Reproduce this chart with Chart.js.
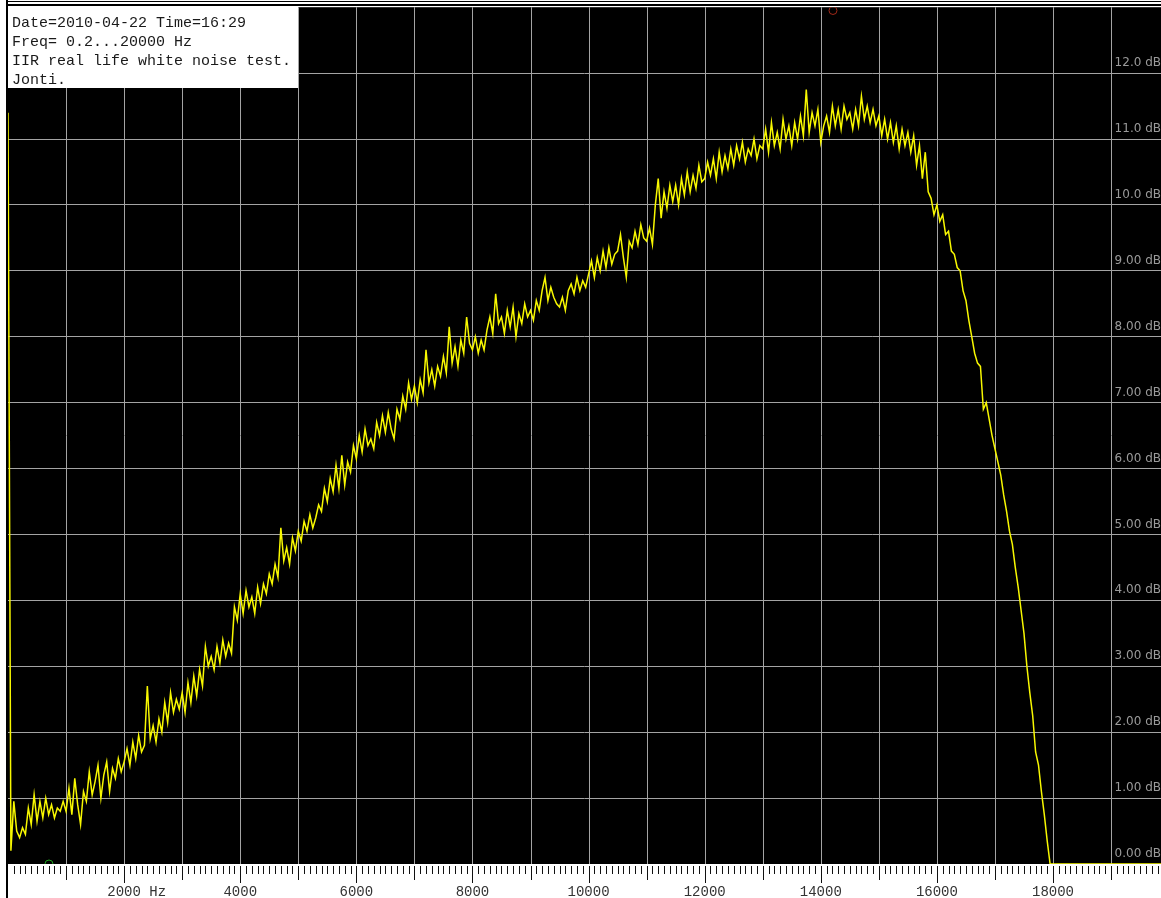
<!DOCTYPE html>
<html>
<head>
<meta charset="utf-8">
<title>IIR real life white noise test</title>
<script src="https://cdn.jsdelivr.net/npm/chart.js@4.4.0/dist/chart.umd.min.js"></script>
<style>
  html, body { margin: 0; padding: 0; background: #fff; }
  #wrap { width: 1161px; height: 898px; position: relative; }
</style>
</head>
<body>
<div id="wrap"><canvas id="spectrum"></canvas></div>
<script>
// --- DATA ---
const infoLines = [
    'Date=2010-04-22 Time=16:29',
    'Freq= 0.2...20000 Hz',
    'IIR real life white noise test.',
    'Jonti.'
];

// level in dB, one sample every 50 Hz starting at 0 Hz
const freqStep = 50;
const levelDb = [
    11.4, 0.2, 0.95, 0.5, 0.4, 0.55, 0.45, 0.85, 0.6, 1.05,
    0.65, 0.95, 0.7, 1.0, 0.75, 0.9, 0.7, 0.85, 0.8, 0.95,
    0.8, 1.15, 0.75, 1.3, 0.9, 0.6, 1.1, 0.95, 1.4, 1.05,
    1.25, 1.5, 1.0, 1.35, 1.55, 1.1, 1.45, 1.3, 1.6, 1.4,
    1.55, 1.75, 1.5, 1.85, 1.6, 1.95, 1.7, 1.8, 2.7, 1.9,
    2.1, 1.85, 2.2, 2.0, 2.45, 2.15, 2.6, 2.3, 2.5, 2.35,
    2.6, 2.3, 2.75, 2.45, 2.85, 2.55, 2.95, 2.7, 3.3, 3.0,
    3.15, 2.95, 3.3, 3.05, 3.4, 3.15, 3.35, 3.2, 3.9, 3.7,
    4.1, 3.8, 4.15, 3.9, 4.05, 3.8, 4.2, 3.95, 4.25, 4.1,
    4.4, 4.25, 4.55, 4.35, 5.1, 4.6, 4.8, 4.55, 4.95, 4.75,
    5.05, 4.9, 5.2, 5.05, 5.3, 5.1, 5.25, 5.45, 5.35, 5.7,
    5.5, 5.85, 5.65, 6.05, 5.7, 6.2, 5.75, 6.1, 5.95, 6.35,
    6.15, 6.5, 6.25, 6.6, 6.35, 6.45, 6.3, 6.7, 6.5, 6.8,
    6.55, 6.85, 6.6, 6.45, 6.9, 6.75, 7.1, 6.9, 7.3, 7.05,
    7.25, 7.0, 7.35, 7.15, 7.8, 7.3, 7.5, 7.25, 7.55, 7.4,
    7.7, 7.45, 8.15, 7.6, 7.85, 7.55, 7.95, 7.75, 8.3, 7.9,
    7.8, 8.0, 7.75, 7.95, 7.8, 8.1, 8.3, 8.05, 8.65, 8.2,
    8.3, 8.05, 8.4, 8.15, 8.45, 8.0, 8.35, 8.2, 8.5, 8.3,
    8.4, 8.25, 8.55, 8.4, 8.7, 8.9, 8.55, 8.75, 8.6, 8.5,
    8.45, 8.6, 8.4, 8.7, 8.8, 8.65, 8.9, 8.7, 8.85, 8.75,
    8.95, 9.15, 8.9, 9.2, 9.0, 9.3, 9.05, 9.35, 9.1, 9.25,
    9.3, 9.55, 9.2, 8.9, 9.45, 9.35, 9.6, 9.4, 9.7, 9.5,
    9.45, 9.65, 9.4, 10.0, 10.4, 9.8, 10.2, 9.95, 10.3, 10.05,
    10.3, 10.0, 10.4, 10.15, 10.5, 10.2, 10.45, 10.25, 10.6, 10.35,
    10.4, 10.65, 10.45, 10.7, 10.4, 10.8, 10.5, 10.75, 10.55, 10.85,
    10.6, 10.9, 10.7, 10.95, 10.65, 10.85, 10.75, 11.0, 10.7, 10.9,
    10.85, 11.15, 10.8, 11.25, 10.9, 11.1, 10.85, 11.3, 11.0, 11.2,
    10.9, 11.25, 11.0, 11.35, 11.05, 11.75, 11.1, 11.4, 11.2, 11.45,
    10.95, 11.2, 11.35, 11.1, 11.5, 11.2, 11.45, 11.15, 11.5, 11.3,
    11.4, 11.15, 11.45, 11.2, 11.65, 11.3, 11.5, 11.25, 11.45, 11.2,
    11.35, 11.05, 11.3, 11.0, 11.25, 10.95, 11.2, 10.85, 11.15, 10.9,
    11.1, 10.8, 11.05, 10.6, 10.9, 10.4, 10.8, 10.2, 10.1, 9.85,
    10.0, 9.75, 9.85, 9.55, 9.6, 9.3, 9.25, 9.05, 9.0, 8.7,
    8.55, 8.25, 8.0, 7.75, 7.6, 7.55, 6.9, 7.0, 6.75, 6.5,
    6.3, 6.1, 5.9, 5.6, 5.35, 5.05, 4.85, 4.5, 4.2, 3.85,
    3.5, 3.0, 2.6, 2.25, 1.7, 1.5, 1.1, 0.75, 0.35, 0.0
];
const tailFreqs = [18000, 19860];
const tailDb = [0, 0];

// min / max markers
const markerFreqs = [706, 14210];
const markerDb = [0, 12.95];
const markerColors = ['#1fa31f', '#a02818'];

const xLabelFreqs = [2000, 4000, 6000, 8000, 10000, 12000, 14000, 16000, 18000];
const xLabelTexts = ['2000 Hz', '4000', '6000', '8000', '10000', '12000', '14000', '16000', '18000'];
const yTickLabels = ['0.00 dB', '1.00 dB', '2.00 dB', '3.00 dB', '4.00 dB', '5.00 dB', '6.00 dB',
                     '7.00 dB', '8.00 dB', '9.00 dB', '10.0 dB', '11.0 dB', '12.0 dB'];

// --- BUILD SERIES ---
const curve = levelDb.map((v, i) => ({ x: i * freqStep, y: v }))
    .concat(tailFreqs.map((f, i) => ({ x: f, y: tailDb[i] })));
const markers = markerFreqs.map((f, i) => ({ x: f, y: markerDb[i] }));

const GRID = '#a4a4a4';

// --- DECORATION PLUGIN ---
const analyzerFrame = {
    id: 'analyzerFrame',
    beforeDraw(chart) {
        const { ctx, chartArea: a } = chart;
        ctx.save();
        ctx.fillStyle = '#fff';
        ctx.fillRect(0, 0, chart.width, chart.height);
        ctx.fillStyle = '#000';
        ctx.fillRect(a.left, a.top, a.right - a.left, a.bottom - a.top);
        ctx.restore();
    },
    beforeDatasetsDraw(chart) {
        // vertical grid every 1000 Hz
        const { ctx, chartArea: a } = chart;
        const x = chart.scales.x;
        ctx.save();
        ctx.strokeStyle = GRID;
        ctx.lineWidth = 1;
        for (let f = 1000; f < x.max; f += 1000) {
            const px = Math.round(x.getPixelForValue(f)) + 0.5;
            ctx.beginPath();
            ctx.moveTo(px, a.top);
            ctx.lineTo(px, a.bottom);
            ctx.stroke();
        }
        ctx.restore();
    },
    afterDraw(chart) {
        const { ctx, chartArea: a } = chart;
        const x = chart.scales.x;
        ctx.save();

        // ruler under the plot
        ctx.strokeStyle = '#111';
        ctx.lineWidth = 1;
        for (let f = 100; f < x.max; f += 100) {
            const px = Math.round(x.getPixelForValue(f)) + 0.5;
            const len = f % 2000 === 0 ? 17 : (f % 1000 === 0 ? 14 : 8);
            ctx.beginPath();
            ctx.moveTo(px, a.bottom + 2);
            ctx.lineTo(px, a.bottom + 2 + len);
            ctx.stroke();
        }

        // frequency labels, number centred on its tick
        ctx.font = '14px "Liberation Mono", monospace';
        ctx.fillStyle = '#333';
        ctx.textBaseline = 'alphabetic';
        ctx.textAlign = 'left';
        xLabelTexts.forEach((t, i) => {
            const num = t.split(' ')[0];
            const px = x.getPixelForValue(xLabelFreqs[i]);
            ctx.fillText(t, px - ctx.measureText(num).width / 2, 896);
        });

        // frame lines
        ctx.fillStyle = '#000';
        ctx.fillRect(6, 1, chart.width - 6, 1);
        ctx.fillRect(6, 4, chart.width - 6, 2);
        ctx.fillRect(6, 0, 2, chart.height);

        // info box
        ctx.fillStyle = '#fff';
        ctx.fillRect(8, 6, 290, 82);
        ctx.font = '15px "Liberation Mono", monospace';
        ctx.fillStyle = '#1a1a1a';
        infoLines.forEach((line, i) => ctx.fillText(line, 12, 27 + i * 19));

        ctx.restore();
    }
};

// --- CHART ---
const chart = new Chart(document.getElementById('spectrum'), {
    type: 'line',
    data: {
        datasets: [
            {
                data: curve,
                borderColor: '#f8f800',
                borderWidth: 1.5,
                pointRadius: 0,
                tension: 0
            },
            {
                data: markers,
                showLine: false,
                pointStyle: 'circle',
                pointRadius: 4,
                pointBorderWidth: 1,
                pointBorderColor: markerColors,
                pointBackgroundColor: 'transparent'
            }
        ]
    },
    options: {
        responsive: true,
        maintainAspectRatio: false,
        animation: false,
        events: [],
        layout: { autoPadding: false, padding: { left: 8, top: 6, right: 0, bottom: 34 } },
        plugins: { legend: { display: false }, tooltip: { enabled: false } },
        scales: {
            x: {
                type: 'linear',
                min: 0,
                max: 19860,
                border: { display: false },
                grid: { display: false, drawTicks: false },
                ticks: { display: false, stepSize: 1000 }
            },
            y: {
                position: 'right',
                min: 0,
                max: 13,
                border: { display: false },
                grid: {
                    drawTicks: false,
                    lineWidth: 1,
                    color: c => (c.tick && c.tick.value > 0 && c.tick.value < 13) ? GRID : 'transparent'
                },
                ticks: {
                    stepSize: 1,
                    mirror: true,
                    padding: 0,
                    labelOffset: -10,
                    color: '#9a9a9a',
                    font: { family: '"DejaVu Sans", sans-serif', size: 12 },
                    callback: v => (v < yTickLabels.length ? yTickLabels[v] : '')
                }
            }
        }
    },
    plugins: [analyzerFrame]
});
</script>
</body>
</html>
